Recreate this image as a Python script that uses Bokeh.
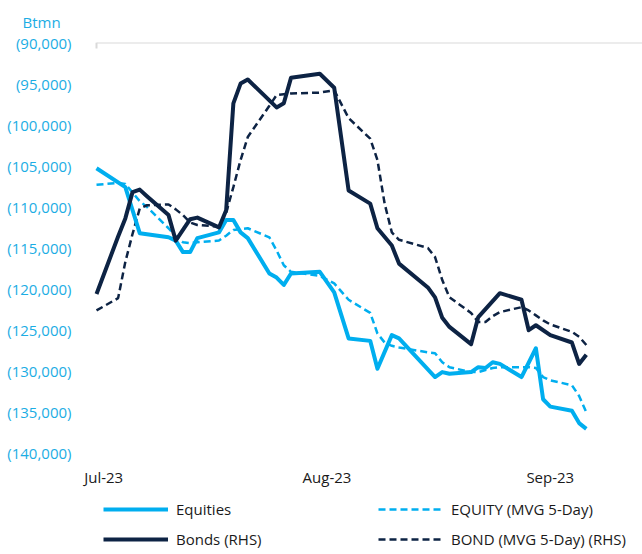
import pandas as pd
from bokeh.plotting import figure
from bokeh.models import (Range1d, FixedTicker, CustomJSTickFormatter, DatetimeTickFormatter,
                          DatetimeAxis, Legend, LegendItem, Title)
from bokeh.embed import file_html
from bokeh.resources import INLINE

# ---------------- data (Btmn, cumulative) ----------------
eq_dates = ["2023-06-30", "2023-07-04", "2023-07-06", "2023-07-10", "2023-07-11", "2023-07-12",
            "2023-07-13", "2023-07-14", "2023-07-17", "2023-07-18", "2023-07-19", "2023-07-20",
            "2023-07-21", "2023-07-24", "2023-07-25", "2023-07-26", "2023-07-27", "2023-07-31",
            "2023-08-02", "2023-08-04", "2023-08-07", "2023-08-08", "2023-08-10", "2023-08-11",
            "2023-08-16", "2023-08-17", "2023-08-18", "2023-08-21", "2023-08-22", "2023-08-23",
            "2023-08-24", "2023-08-25", "2023-08-28", "2023-08-30", "2023-08-31", "2023-09-01",
            "2023-09-04", "2023-09-05", "2023-09-06"]
eq_vals = [-105300, -107600, -113200, -113700, -114100, -115500,
           -115500, -113800, -113100, -111600, -111600, -113100,
           -113800, -118100, -118600, -119500, -118100, -117900,
           -120400, -126000, -126300, -129700, -125600, -126000,
           -130700, -130100, -130300, -130100, -129500, -129600,
           -128900, -129100, -130700, -127200, -133400, -134300,
           -134800, -136300, -137000]

bond_dates = ["2023-06-30", "2023-07-03", "2023-07-04", "2023-07-05", "2023-07-06", "2023-07-07",
              "2023-07-10", "2023-07-11", "2023-07-13", "2023-07-14", "2023-07-17", "2023-07-18",
              "2023-07-19", "2023-07-20", "2023-07-21", "2023-07-25", "2023-07-26", "2023-07-27",
              "2023-07-31", "2023-08-02", "2023-08-04", "2023-08-07", "2023-08-08", "2023-08-10",
              "2023-08-11", "2023-08-15", "2023-08-16", "2023-08-17", "2023-08-18", "2023-08-21",
              "2023-08-22", "2023-08-25", "2023-08-28", "2023-08-29", "2023-08-30", "2023-09-01",
              "2023-09-04", "2023-09-05", "2023-09-06"]
bond_vals = [-120600, -113600, -111400, -108200, -107900, -108700,
             -111000, -114100, -111500, -111300, -112500, -110400,
             -97400, -95000, -94500, -97900, -97400, -94300,
             -93800, -95500, -108000, -109600, -112600, -114700,
             -116900, -119800, -121000, -123500, -124600, -126700,
             -123400, -120500, -121300, -125000, -124400, -125600,
             -126500, -129100, -128000]

eqma_dates = ["2023-06-30", "2023-07-03", "2023-07-04", "2023-07-06", "2023-07-07", "2023-07-10",
              "2023-07-11", "2023-07-12", "2023-07-13", "2023-07-14", "2023-07-17", "2023-07-18",
              "2023-07-19", "2023-07-20", "2023-07-21", "2023-07-24", "2023-07-25", "2023-07-26",
              "2023-07-27", "2023-07-31", "2023-08-02", "2023-08-04", "2023-08-07", "2023-08-08",
              "2023-08-09", "2023-08-10", "2023-08-11", "2023-08-15", "2023-08-16", "2023-08-17",
              "2023-08-18", "2023-08-21", "2023-08-22", "2023-08-24", "2023-08-25", "2023-08-28",
              "2023-08-29", "2023-08-30", "2023-08-31", "2023-09-01", "2023-09-04", "2023-09-05",
              "2023-09-06"]
eqma_vals = [-107300, -107100, -107200, -109300, -110000, -112600,
             -113600, -114300, -114400, -114300, -114100, -113500,
             -112800, -112700, -112600, -113700, -115300, -117100,
             -117900, -118400, -119300, -121300, -122900, -125400,
             -126500, -126900, -127100, -127700, -127800, -128900,
             -129500, -130100, -130100, -129600, -129500, -129500,
             -129500, -129600, -130700, -131100, -131700, -133000,
             -135000]

bondma_dates = ["2023-06-30", "2023-07-03", "2023-07-04", "2023-07-05", "2023-07-06", "2023-07-07",
                "2023-07-10", "2023-07-11", "2023-07-12", "2023-07-13", "2023-07-14", "2023-07-17",
                "2023-07-18", "2023-07-19", "2023-07-20", "2023-07-21", "2023-07-24", "2023-07-25",
                "2023-07-26", "2023-07-27", "2023-07-31", "2023-08-02", "2023-08-04", "2023-08-07",
                "2023-08-08", "2023-08-09", "2023-08-10", "2023-08-11", "2023-08-15", "2023-08-16",
                "2023-08-17", "2023-08-18", "2023-08-21", "2023-08-22", "2023-08-23", "2023-08-24",
                "2023-08-25", "2023-08-28", "2023-08-29", "2023-08-30", "2023-08-31", "2023-09-01",
                "2023-09-04", "2023-09-05", "2023-09-06"]
bondma_vals = [-122600, -121100, -116700, -113300, -110200, -109800,
               -109700, -110300, -111000, -111900, -112200, -112400,
               -110700, -107600, -104300, -101500, -97700, -96400,
               -96300, -96200, -96100, -95800, -99200, -101700,
               -104300, -109600, -113100, -114000, -115000, -116100,
               -118900, -121000, -122900, -124000, -124000, -123300,
               -122800, -122200, -122600, -123200, -123800, -124300,
               -125200, -125800, -126800]

month_ticks = ["2023-07-01", "2023-08-01", "2023-09-01"]
y_ticks = list(range(-140000, -89999, 5000))

labels = ["Equities", "Bonds (RHS)", "EQUITY (MVG 5-Day)", "BOND (MVG 5-Day) (RHS)"]

# ---------------- styling ----------------
LIGHT = "#00AEEF"
NAVY = "#0D2344"
FONT = "Open Sans"

data_start = pd.Timestamp("2023-06-30")
x_lo = data_start - pd.Timedelta(days=2.5)   # room for the first month label
x_hi = data_start + pd.Timedelta(days=75.8)
Y_TOP = -90000
Y_BOTTOM = -152290          # frame runs down to the canvas edge; -140,000 sits at the old axis line
Y_AXIS_ROW = -140000        # where the month axis is drawn


def ms(t):
    return pd.Timestamp(t).value // 10**6


p = figure(width=642, height=554, x_axis_type="datetime",
           x_range=Range1d(x_lo, x_hi), y_range=Range1d(Y_BOTTOM, Y_TOP),
           output_backend="svg", toolbar_location=None,
           min_border_left=78, min_border_right=0, min_border_top=42, min_border_bottom=0)
p.outline_line_color = None
p.xgrid.visible = False
p.ygrid.visible = False
p.background_fill_color = "white"
p.border_fill_color = "white"

r_eqma = p.line(pd.to_datetime(eqma_dates), eqma_vals, line_color=LIGHT, line_width=2.5,
                line_dash="7 4")
r_bondma = p.line(pd.to_datetime(bondma_dates), bondma_vals, line_color=NAVY, line_width=2.5,
                  line_dash="7 4")
r_eq = p.line(pd.to_datetime(eq_dates), eq_vals, line_color=LIGHT, line_width=4,
              line_join="round")
r_bond = p.line(pd.to_datetime(bond_dates), bond_vals, line_color=NAVY, line_width=4,
                line_join="round")

# bottom x axis (month labels), drawn just under the -140,000 level
xa = p.below[0]
xa.fixed_location = Y_AXIS_ROW
xa.ticker = FixedTicker(ticks=[ms(t) for t in month_ticks])
xa.formatter = DatetimeTickFormatter(days="%b-%y", months="%b-%y", years="%b-%y")
xa.axis_line_color = None
xa.major_tick_line_color = None
xa.minor_tick_line_color = None
xa.major_label_text_font = FONT
xa.major_label_text_font_size = "15px"
xa.major_label_text_color = "#1A1A1A"
xa.major_label_standoff = 8

# top axis line (category axis crossing at the top), starting at the first date
top_axis = DatetimeAxis(fixed_location=Y_TOP, bounds=(ms(data_start), ms(x_hi)),
                        ticker=FixedTicker(ticks=[ms(data_start)]),
                        axis_line_color="#D9D9D9", axis_line_width=2,
                        major_tick_line_color="#D9D9D9", major_tick_line_width=2,
                        major_tick_in=6, major_tick_out=0,
                        minor_tick_line_color=None, major_label_text_alpha=0,
                        major_label_text_font_size="1px")
p.add_layout(top_axis, "above")

# y axis
ya = p.left[0]
ya.ticker = FixedTicker(ticks=y_ticks)
ya.formatter = CustomJSTickFormatter(code="""
    return "(" + Math.abs(tick).toLocaleString("en-US") + ")";
""")
ya.axis_line_color = None
ya.major_tick_line_color = None
ya.minor_tick_line_color = None
ya.major_label_text_font = FONT
ya.major_label_text_font_size = "15px"
ya.major_label_text_color = "#1CADE4"
ya.major_label_standoff = 1

# unit label above the axis
p.add_layout(Title(text="Btmn", align="left", offset=-56, standoff=18, vertical_align="top",
                   text_font=FONT, text_font_size="15px", text_font_style="normal",
                   text_color="#1CADE4"), "above")

legend = Legend(items=[LegendItem(label=labels[0], renderers=[r_eq]),
                       LegendItem(label=labels[1], renderers=[r_bond]),
                       LegendItem(label=labels[2], renderers=[r_eqma]),
                       LegendItem(label=labels[3], renderers=[r_bondma])],
                ncols=2, location=(25, 0), glyph_width=65, glyph_height=30,
                label_width=202, label_standoff=8, spacing=0, padding=0, margin=0,
                border_line_color=None, background_fill_alpha=0,
                label_text_font=FONT, label_text_font_size="15px", label_text_color="#1A1A1A")
p.add_layout(legend, "center")

open("out.html", "w").write(file_html(p, INLINE))
